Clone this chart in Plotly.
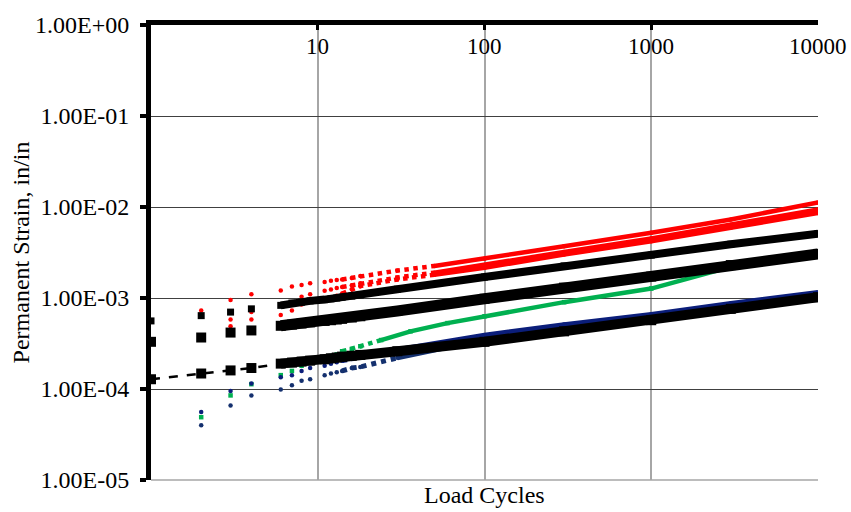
import math
import plotly.graph_objects as go

# ---------------- data ----------------
x_tick_vals = [10, 100, 1000, 10000]
x_tick_text = ["10", "100", "1000", "10000"]
y_tick_vals = [1e-5, 1e-4, 1e-3, 1e-2, 1e-1, 1e0]
y_tick_text = ["1.00E-05", "1.00E-04", "1.00E-03", "1.00E-02", "1.00E-01", "1.00E+00"]

black_cycles = [1, 2, 3, 4, 6, 7, 8, 9, 11, 12, 13, 14, 16, 18, 30, 100, 300, 1000, 3000, 10000]
black_a = [5.6e-4, 6.4e-4, 7.0e-4, 7.6e-4, 8.3e-4, 8.8e-4, 9.0e-4, 9.3e-4, 9.6e-4, 9.8e-4,
           1.0e-3, 1.02e-3, 1.05e-3, 1.08e-3, 1.25e-3, 1.7e-3, 2.25e-3, 2.96e-3, 3.9e-3, 5.1e-3]
black_b = [3.3e-4, 3.68e-4, 4.17e-4, 4.4e-4, 4.95e-4, 5.1e-4, 5.25e-4, 5.4e-4, 5.6e-4, 5.7e-4,
           5.8e-4, 5.9e-4, 6.1e-4, 6.3e-4, 7.2e-4, 9.8e-4, 1.3e-3, 1.72e-3, 2.3e-3, 3.05e-3]
black_c = [1.28e-4, 1.48e-4, 1.6e-4, 1.7e-4, 1.9e-4, 1.95e-4, 2.0e-4, 2.05e-4, 2.12e-4, 2.17e-4,
           2.22e-4, 2.27e-4, 2.32e-4, 2.37e-4, 2.6e-4, 3.3e-4, 4.3e-4, 5.7e-4, 7.6e-4, 1.02e-3]

red1_cycles = [2, 3, 4, 6, 7, 8, 9, 11, 12, 13, 14, 16, 18, 30, 50, 100, 300, 1000, 3000, 10000]
red1 = [7.3e-4, 9.5e-4, 1.1e-3, 1.21e-3, 1.34e-3, 1.39e-3, 1.45e-3, 1.5e-3, 1.55e-3, 1.58e-3,
        1.6e-3, 1.66e-3, 1.75e-3, 2.0e-3, 2.25e-3, 2.7e-3, 3.7e-3, 5.2e-3, 7.3e-3, 1.12e-2]
red2_cycles = [3, 4, 8, 9, 11, 12, 13, 14, 16, 18, 30, 50, 100, 300, 1000, 3000, 10000]
red2 = [5.8e-4, 7.0e-4, 1.03e-3, 1.1e-3, 1.2e-3, 1.24e-3, 1.29e-3, 1.32e-3, 1.38e-3, 1.45e-3,
        1.68e-3, 1.9e-3, 2.3e-3, 3.2e-3, 4.5e-3, 6.4e-3, 9.4e-3]
red3_cycles = [3, 4, 6, 7, 8, 9, 11, 12, 13, 14, 16, 18, 30, 50, 100, 300, 1000, 3000, 10000]
red3 = [4.9e-4, 5.8e-4, 6.5e-4, 7.3e-4, 8.5e-4, 9.3e-4, 9.8e-4, 1.02e-3, 1.06e-3, 1.12e-3,
        1.25e-3, 1.35e-3, 1.6e-3, 1.8e-3, 2.15e-3, 3.0e-3, 4.2e-3, 5.9e-3, 8.6e-3]

green_cycles = [2, 3, 4, 6, 7, 8, 9, 11, 12, 13, 14, 16, 18, 24, 36, 60, 100, 300, 1000, 3000]
green = [4.9e-5, 8.5e-5, 1.13e-4, 1.42e-4, 1.58e-4, 1.8e-4, 1.97e-4, 2.2e-4, 2.3e-4, 2.4e-4,
         2.6e-4, 2.75e-4, 2.95e-4, 3.45e-4, 4.3e-4, 5.3e-4, 6.3e-4, 9.0e-4, 1.27e-3, 2.2e-3]

blue_cycles = [2, 3, 4, 6, 7, 8, 9, 11, 12, 13, 14, 16, 18, 30, 100, 300, 1000, 3000, 10000]
blue1 = [5.6e-5, 9.5e-5, 1.15e-4, 1.35e-4, 1.42e-4, 1.58e-4, 1.7e-4, 1.8e-4, 1.9e-4, 1.97e-4,
         2.05e-4, 2.14e-4, 2.3e-4, 2.7e-4, 3.9e-4, 5.1e-4, 6.6e-4, 8.7e-4, 1.15e-3]
blue2 = [4.0e-5, 6.6e-5, 8.5e-5, 9.9e-5, 1.1e-4, 1.23e-4, 1.28e-4, 1.42e-4, 1.48e-4, 1.53e-4,
         1.58e-4, 1.7e-4, 1.75e-4, 2.2e-4, 3.5e-4, 4.7e-4, 6.2e-4, 8.2e-4, 1.1e-3]

# ---------------- styling ----------------
FONT = "Liberation Serif"
fig = go.Figure()


def add_series(xs, ys, color, symbol, size, band_from, band_width, dotted_to=None):
    """Dense data appear as a band from `band_from` cycles on (dotted first, then solid)."""
    solid_from = dotted_to if dotted_to else band_from
    if dotted_to:
        dx = [x for x in xs if band_from <= x <= dotted_to]
        dy = [y for x, y in zip(xs, ys) if band_from <= x <= dotted_to]
        fig.add_trace(go.Scatter(x=dx, y=dy, mode="lines", hoverinfo="skip", showlegend=False,
                                 line=dict(color=color, width=band_width, dash="dot")))
    bx = [x for x in xs if x >= solid_from]
    by = [y for x, y in zip(xs, ys) if x >= solid_from]
    fig.add_trace(go.Scatter(x=bx, y=by, mode="lines", hoverinfo="skip", showlegend=False,
                             line=dict(color=color, width=band_width)))
    fig.add_trace(go.Scatter(x=xs, y=ys, mode="markers", showlegend=False,
                             marker=dict(color=color, symbol=symbol, size=size,
                                         line=dict(width=0))))


add_series(red3_cycles, red3, "#FF0000", "circle", 4.5, 14, 4.5, 50)
add_series(red2_cycles, red2, "#FF0000", "circle", 4.5, 14, 4.5, 50)
add_series(red1_cycles, red1, "#FF0000", "circle", 4.5, 14, 4.5, 50)

add_series(green_cycles, green, "#00B050", "square", 4.5, 14, 4.5, 24)

add_series(blue_cycles, blue2, "#14306E", "circle", 4.5, 14, 5, 30)
add_series(blue_cycles, blue1, "#0B1E7A", "circle", 4.5, 14, 5, 30)

# dashed trend piece along the lowest black series at the start
fig.add_trace(go.Scatter(x=black_cycles[:5], y=black_c[:5], mode="lines", showlegend=False,
                         line=dict(color="black", width=2.5, dash="dash")))

add_series(black_cycles, black_a, "black", "square", 7, 6, 8)
add_series(black_cycles, black_b, "black", "square", 10, 6, 11)
add_series(black_cycles, black_c, "black", "square", 10, 6, 10)

x_label_annotations = [
    dict(text=t, x=math.log10(v), xref="x", y=0.952, yref="paper",
         xanchor="center", yanchor="middle", showarrow=False,
         font=dict(family=FONT, size=23, color="black"))
    for v, t in zip(x_tick_vals, x_tick_text)
]

fig.update_layout(
    width=851, height=512,
    margin=dict(l=151, r=33, t=17, b=32),
    paper_bgcolor="white", plot_bgcolor="white",
    font=dict(family=FONT, size=24, color="black"),
    showlegend=False,
    xaxis=dict(
        type="log", range=[0, 4], side="top",
        tickvals=x_tick_vals, showticklabels=False,
        ticks="inside", ticklen=5, tickwidth=3, tickcolor="black",
        showline=True, linewidth=5, linecolor="black",
        showgrid=True, gridcolor="#A6A6A6", gridwidth=1.5, zeroline=False,
    ),
    yaxis=dict(
        type="log", range=[-5, 0],
        tickvals=y_tick_vals, ticktext=y_tick_text,
        ticks="outside", ticklen=6, tickwidth=4, tickcolor="black",
        ticklabelstandoff=6,
        tickfont=dict(family=FONT, size=24, color="black"),
        showline=True, linewidth=5, linecolor="black",
        showgrid=True, gridcolor="#404040", gridwidth=1.2, zeroline=False,
    ),
    shapes=[dict(type="line", xref="paper", yref="paper", x0=0, x1=1, y0=0, y1=0,
                 line=dict(color="#A6A6A6", width=1.5), layer="above")],
    annotations=x_label_annotations + [
        dict(text="Load Cycles", xref="paper", yref="paper", x=0.5, y=-0.033,
             xanchor="center", yanchor="middle", showarrow=False,
             font=dict(family=FONT, size=24, color="black")),
        dict(text="Permanent Strain, in/in", xref="paper", yref="paper", x=-0.195, y=0.5,
             xanchor="center", yanchor="middle", textangle=-90, showarrow=False,
             font=dict(family=FONT, size=24, color="black")),
    ],
)

fig.write_html("out.html", config={"displayModeBar": False},
               post_script="document.body.style.margin='0';")
